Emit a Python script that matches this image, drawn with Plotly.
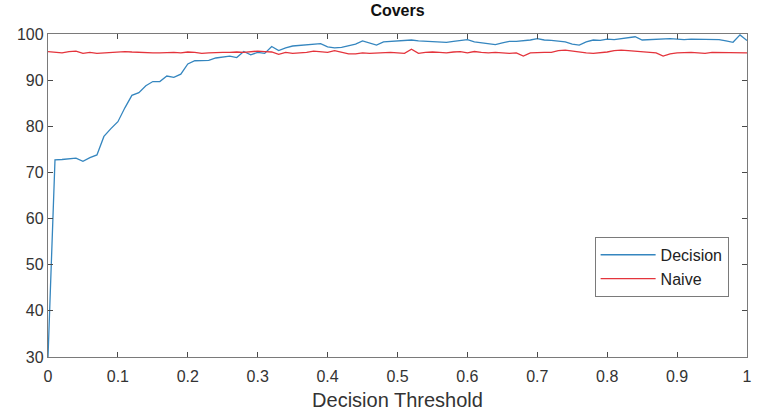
import plotly.graph_objects as go

threshold = [round(i * 0.01, 2) for i in range(101)]

decision = [
    30.0, 72.7, 72.8, 73.0, 73.1, 72.4, 73.2, 73.8, 77.8, 79.5,
    81.0, 84.0, 86.7, 87.3, 88.8, 89.7, 89.7, 90.9, 90.6, 91.3,
    93.5, 94.2, 94.2, 94.3, 94.8, 95.0, 95.2, 94.9, 96.2, 95.5,
    96.0, 95.8, 97.3, 96.4, 97.0, 97.4, 97.5, 97.6, 97.7, 97.9,
    97.2, 97.0, 97.1, 97.5, 97.8, 98.5, 98.0, 97.6, 98.3, 98.4,
    98.5, 98.6, 98.7, 98.5, 98.4, 98.4, 98.3, 98.2, 98.4, 98.6,
    98.8, 98.3, 98.1, 97.8, 97.7, 98.1, 98.4, 98.4, 98.5, 98.7,
    99.0, 98.7, 98.6, 98.5, 98.3, 97.8, 97.6, 98.3, 98.7, 98.6,
    98.9, 98.8, 99.0, 99.2, 99.4, 98.7, 98.8, 98.9, 98.9, 99.0,
    98.9, 98.8, 98.9, 98.9, 98.9, 98.9, 98.8, 98.5, 98.2, 99.8,
    98.6,
]

naive = [
    96.2, 96.1, 95.9, 96.2, 96.3, 95.8, 96.0, 95.8, 95.9, 96.0,
    96.1, 96.2, 96.1, 96.0, 96.0, 95.9, 95.9, 96.0, 96.0, 95.9,
    96.1, 96.0, 95.8, 95.9, 96.0, 96.0, 96.0, 96.1, 96.0, 96.2,
    96.3, 96.2, 96.1, 95.6, 96.0, 95.8, 95.9, 96.0, 96.3, 96.1,
    96.0, 96.4, 96.1, 95.7, 95.7, 95.9, 95.8, 95.9, 95.9, 96.0,
    95.9, 95.8, 96.7, 95.8, 96.0, 96.1, 96.0, 95.9, 96.1, 96.2,
    95.9, 96.2, 96.0, 95.9, 96.0, 95.9, 95.8, 95.9, 95.2, 95.9,
    96.0, 96.0, 96.0, 96.4, 96.5, 96.3, 96.0, 95.9, 95.8, 95.9,
    96.1, 96.4, 96.5, 96.4, 96.3, 96.2, 96.0, 95.9, 95.2, 95.7,
    95.9, 96.0, 96.0, 95.9, 95.8, 96.0, 96.0, 96.0, 95.9, 96.0,
    95.9,
]

x_ticks = [0, 0.1, 0.2, 0.3, 0.4, 0.5, 0.6, 0.7, 0.8, 0.9, 1]
x_tick_labels = ["0", "0.1", "0.2", "0.3", "0.4", "0.5", "0.6", "0.7", "0.8", "0.9", "1"]
y_ticks = [30, 40, 50, 60, 70, 80, 90, 100]

FONT = "Liberation Sans, Arial, sans-serif"

fig = go.Figure()
fig.add_trace(go.Scatter(x=threshold, y=decision, mode="lines", name="Decision",
                         line=dict(color="#3586bf", width=1.3)))
fig.add_trace(go.Scatter(x=threshold, y=naive, mode="lines", name="Naive",
                         line=dict(color="#e4343c", width=1.3)))

axis_common = dict(
    showline=True, linecolor="#7a7a7a", linewidth=1.3, mirror="ticks",
    ticks="inside", ticklen=5, tickcolor="#4a4a4a", tickwidth=1,
    showgrid=False, zeroline=False,
    tickfont=dict(family=FONT, size=16, color="#333333"),
)

fig.update_layout(
    width=759, height=416,
    margin=dict(l=48, r=7, t=34, b=59),
    paper_bgcolor="white", plot_bgcolor="white",
    title=dict(text="<b>Covers</b>", x=0.5, xanchor="center", xref="paper",
               y=0.975, yanchor="middle",
               font=dict(family=FONT, size=16, color="#111111")),
    xaxis=dict(range=[0, 1], tickvals=x_ticks, ticktext=x_tick_labels,
               ticklabelstandoff=5,
               title=dict(text="Decision Threshold", standoff=8,
                          font=dict(family=FONT, size=20, color="#333333")),
               **axis_common),
    yaxis=dict(range=[30, 100], tickvals=y_ticks, **axis_common),
    legend=dict(x=0.782, y=0.372, xanchor="left", yanchor="top",
                bordercolor="#7a7a7a", borderwidth=1, bgcolor="white",
                font=dict(family=FONT, size=16, color="#222222"),
                itemwidth=55, tracegroupgap=0),
    showlegend=True,
)

fig.write_html("out.html")
